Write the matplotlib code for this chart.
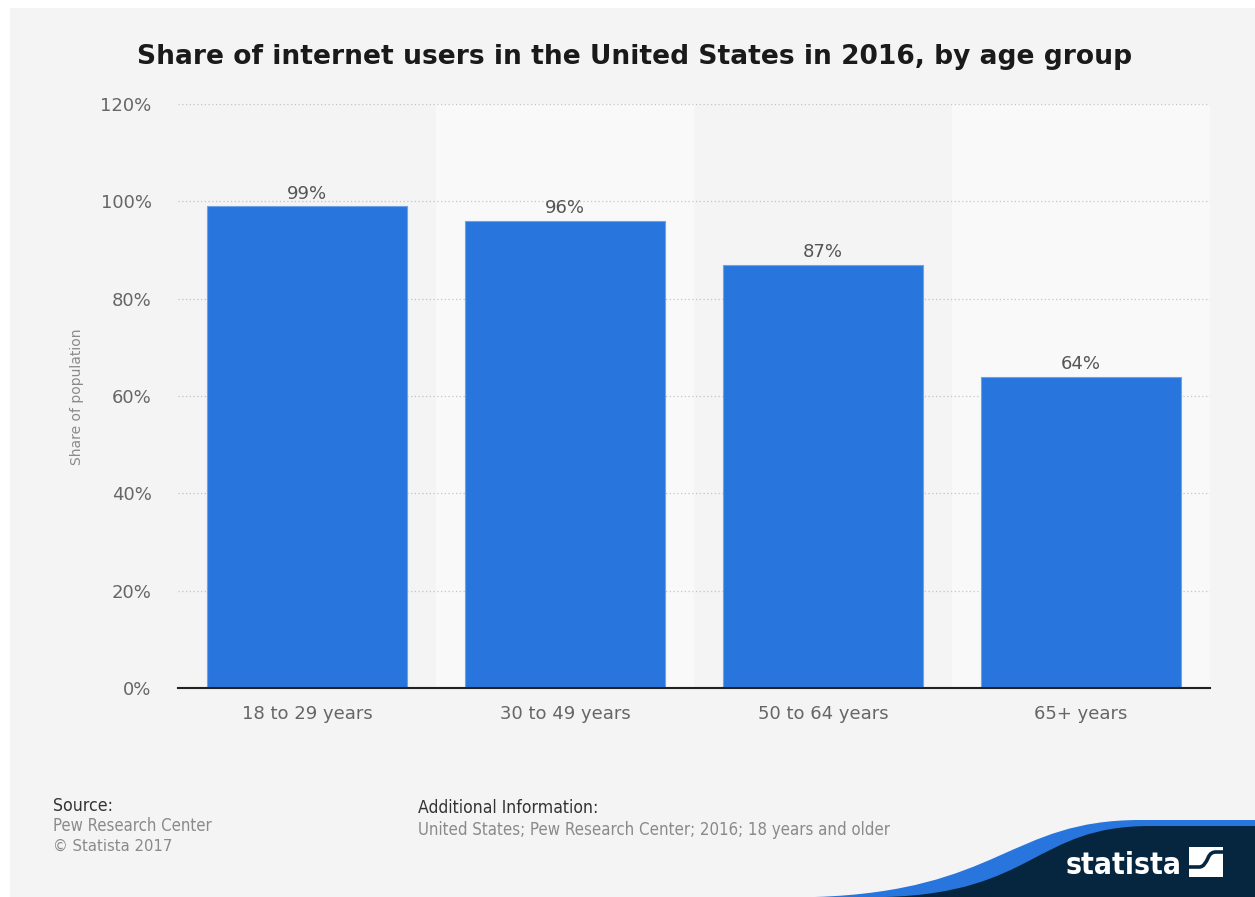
import matplotlib
matplotlib.use("Agg")
import matplotlib.pyplot as plt
from matplotlib import font_manager as fm
from matplotlib.path import Path
from matplotlib.patches import PathPatch, Rectangle

# Data
categories = ["18 to 29 years", "30 to 49 years", "50 to 64 years", "65+ years"]
shares = [99, 96, 87, 64]
yticks = [0, 20, 40, 60, 80, 100, 120]
ytick_labels = ["0%", "20%", "40%", "60%", "80%", "100%", "120%"]

title = "Share of internet users in the United States in 2016, by age group"
y_label = "Share of population"
source_lines = ["Pew Research Center", "\u00a9 Statista 2017"]
additional_info = "United States; Pew Research Center; 2016; 18 years and older"

W, H = 1255, 897
BAR_BLUE = "#2876dd"
NAVY = "#06263f"


def narrow_font(bold=False):
    """Find an installed condensed / narrow sans face, else plain DejaVu Sans."""
    want_bold = {"bold", 700, 600, "semibold", "demibold", 800, "heavy"}
    cands = []
    for f in fm.fontManager.ttflist:
        name = f.name.lower()
        cond = (str(f.stretch).lower() in ("condensed", "semi-condensed", "extra-condensed")
                or "narrow" in name or "condensed" in name
                or "condensed" in f.fname.lower())
        if not cond or (f.style != "normal"):
            continue
        is_bold = f.weight in want_bold or (isinstance(f.weight, int) and f.weight >= 600)
        if is_bold != bold:
            continue
        rank = 0 if "dejavu sans" in name and "mono" not in name else \
               1 if "liberation" in name else 2 if "roboto" in name else 3
        if "mono" in name or "serif" in name and "sans" not in name:
            rank += 10
        cands.append((rank, f.fname))
    if cands:
        cands.sort()
        return fm.FontProperties(fname=cands[0][1])
    return fm.FontProperties(family="DejaVu Sans", weight="bold" if bold else "normal")


fp_narrow = narrow_font(False)
fp_narrow_bold = narrow_font(True)

fig = plt.figure(figsize=(W / 100, H / 100), dpi=100, facecolor="white")


def px(x, y):
    """Pixel position (from top-left) to figure fraction."""
    return x / W, 1 - y / H


# panel background
fig.patches.append(Rectangle(px(10, H), (W - 10) / W, (H - 8) / H,
                             transform=fig.transFigure, facecolor="#f4f4f4",
                             edgecolor="none", zorder=-5))

left, right, top, bottom = 178, 1210, 104, 688
ax = fig.add_axes([left / W, 1 - bottom / H, (right - left) / W, (bottom - top) / H])
ax.set_facecolor("none")

x = list(range(len(categories)))
for i in x:
    if i % 2 == 1:
        ax.axvspan(i - 0.5, i + 0.5, color="#f9f9f9", zorder=0, lw=0)

ax.bar(x, shares, width=0.775, color=BAR_BLUE, edgecolor="#6ea2e8",
       linewidth=0.8, zorder=3)
for xi, v in zip(x, shares):
    ax.annotate(f"{v}%", (xi, v), xytext=(0, 2.5), textcoords="offset points",
                ha="center", va="bottom", fontsize=13, color="#555555", zorder=4)

ax.set_xlim(-0.5, len(categories) - 0.5)
ax.set_ylim(0, 120)
ax.set_yticks(yticks)
ax.set_yticklabels(ytick_labels)
ax.set_xticks(x)
ax.set_xticklabels(categories)
ax.tick_params(axis="both", length=0, labelsize=13, labelcolor="#666666")
ax.tick_params(axis="y", pad=19)
ax.tick_params(axis="x", pad=12)
ax.grid(axis="y", color="#c4c4c4", linestyle=(0, (1, 2)), linewidth=0.9, zorder=1)
ax.set_axisbelow(True)
for s in ("top", "right", "left"):
    ax.spines[s].set_visible(False)
ax.spines["bottom"].set_color("#222222")
ax.spines["bottom"].set_linewidth(1.5)
ax.spines["bottom"].set_zorder(5)

fig.text(*px(77, 397), y_label, rotation=90, ha="center", va="center",
         fontsize=10, color="#8a8a8a")

renderer = fig.canvas.get_renderer()


def fit_width(t, target):
    w = t.get_window_extent(renderer).width
    t.set_fontsize(t.get_fontsize() * target / w)


t_title = fig.text(*px(635, 57), title, ha="center", va="center",
                   fontsize=17, fontweight="bold", color="#1a1a1a")
fit_width(t_title, 995)

# footer
t = fig.text(*px(53, 806), "Source:", ha="left", va="center",
             fontproperties=fp_narrow.copy(), color="#333333")
fit_width(t, 60)
for line, yy, w in zip(source_lines, (826, 846), (159, 119)):
    t = fig.text(*px(53, yy), line, ha="left", va="center",
                 fontproperties=fp_narrow.copy(), color="#8a8a8a")
    fit_width(t, w)
t = fig.text(*px(418, 808), "Additional Information:", ha="left", va="center",
             fontproperties=fp_narrow.copy(), color="#333333")
fit_width(t, 180)
t = fig.text(*px(418, 830), additional_info, ha="left", va="center",
             fontproperties=fp_narrow.copy(), color="#8a8a8a")
fit_width(t, 471)

# brand corner
lax = fig.add_axes([0, 0, 1, 1], zorder=10)
lax.set_xlim(0, W)
lax.set_ylim(H, 0)
lax.axis("off")
lax.patch.set_alpha(0)

blue = Path([(815, H), (1000, 891), (1010, 820), (1140, 820), (W, 820), (W, H), (815, H)],
            [Path.MOVETO, Path.CURVE4, Path.CURVE4, Path.CURVE4, Path.LINETO,
             Path.LINETO, Path.CLOSEPOLY])
lax.add_patch(PathPatch(blue, facecolor=BAR_BLUE, edgecolor="none"))
dark = Path([(885, H), (1035, 893), (1035, 826), (1150, 826), (W, 826), (W, H), (885, H)],
            [Path.MOVETO, Path.CURVE4, Path.CURVE4, Path.CURVE4, Path.LINETO,
             Path.LINETO, Path.CLOSEPOLY])
lax.add_patch(PathPatch(dark, facecolor=NAVY, edgecolor="none"))

fp_logo = fp_narrow_bold.copy()
fp_logo.set_size(24)
t = lax.text(1066, 874, "statista", ha="left", va="baseline", color="white",
             fontproperties=fp_logo)
fit_width(t, 115)

lax.add_patch(Rectangle((1189, 847), 34, 30, facecolor="white", edgecolor="none"))
swoosh = Path([(1189, 867), (1199, 867),
               (1204, 867), (1206, 862), (1208, 858),
               (1210, 853), (1213, 852), (1216, 852),
               (1223, 852)],
              [Path.MOVETO, Path.LINETO,
               Path.CURVE4, Path.CURVE4, Path.CURVE4,
               Path.CURVE4, Path.CURVE4, Path.CURVE4,
               Path.LINETO])
lax.add_patch(PathPatch(swoosh, facecolor="none", edgecolor=NAVY, linewidth=2.6))

fig.savefig("out.png", dpi=100, facecolor="white")
